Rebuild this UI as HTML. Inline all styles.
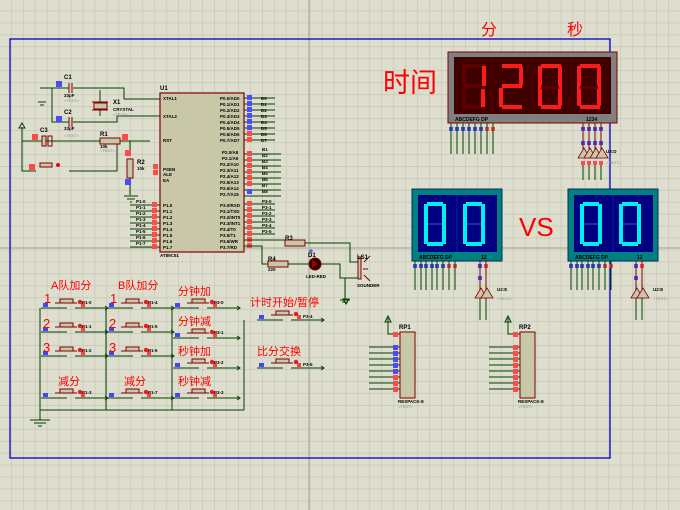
<!DOCTYPE html>
<html><head><meta charset="utf-8"><style>
html,body{margin:0;padding:0;background:#dedece;}
svg{display:block}
.t{font-family:"Liberation Sans",sans-serif;font-size:4.5px;font-weight:bold;fill:#000}
.g{font-family:"Liberation Sans",sans-serif;font-size:4px;fill:#888}
.cn{font-family:"Liberation Sans","Noto Sans CJK SC",sans-serif;fill:#f00}
</style></head><body>
<svg width="680" height="510" viewBox="0 0 680 510" xmlns="http://www.w3.org/2000/svg">
<defs>
<pattern id="grid" width="11.95" height="11.95" patternUnits="userSpaceOnUse" patternTransform="translate(11,10.65)">
<path d="M0 0H11.95M0 0V11.95" stroke="#c2c2b2" stroke-width="1.2" fill="none"/>
</pattern>
<g id="btn">
<rect x="-10" y="-1" width="5" height="4" fill="#4444ff"/>
<rect x="7" y="-5" width="13" height="4" fill="#c8c8a8" stroke="#800000"/>
<line x1="2" y1="-1" x2="24" y2="-1" stroke="#800000"/>
<circle cx="27" cy="-2" r="2.2" fill="#e02020"/><rect x="28" y="-1" width="4" height="4" fill="#ff4040"/>
<path d="M-12 4H14M22 4H55" stroke="#004000" fill="none"/>
<path d="M52 2l3 2-3 2" stroke="#004000" fill="none"/>
</g>
<g id="res"><rect x="0" y="-3" width="20" height="6" fill="#c8c8a8" stroke="#800000"/></g>
<g id="pinR"><rect x="-3" y="-3" width="6" height="6" fill="#ff4a4a"/></g>
<g id="pinB"><rect x="-3" y="-3" width="6" height="6" fill="#4a4aff"/></g>
<g id="buf"><path d="M0 10L6 0 12 10Z" fill="#c8c8a8" stroke="#800000" stroke-width="0.8"/></g>
</defs>
<rect width="680" height="510" fill="#dedece"/>
<rect width="680" height="510" fill="url(#grid)"/>
<line x1="309" y1="0" x2="309" y2="510" stroke="#b6b6a6" stroke-width="1.5"/>
<line x1="0" y1="248" x2="680" y2="248" stroke="#b6b6a6" stroke-width="1.5"/>
<rect x="10" y="39" width="600" height="419" fill="none" stroke="#0000cc" stroke-width="1.3"/>

<g stroke="#004000" fill="none">
<path d="M40 88H52V99M52 88H69M73 88H124V99H160M52 88V122H69M73 122H117V116H160"/>
<path d="M100 90V116"/>
<path d="M22 141H69V141M49 141H150M117 141V171H69M22 127V171H36"/>
<path d="M130 141V152M130 178V195"/>
<path d="M38 102H46M40 105H44"/>
<path d="M124 196H138M127 199H135M130 202H132"/>
</g>
<path d="M19 128L22 123 25 128Z" fill="none" stroke="#004000"/>
<g stroke="#800000" fill="none"><path d="M69 83V93M72 83V93M69 117V127M72 117V127"/><path d="M92 102H108M92 110H108"/></g>
<rect x="94" y="103" width="13" height="6" fill="#c8c8a8" stroke="#800000"/>
<rect x="42" y="136" width="4" height="10" fill="#c8c8a8" stroke="#800000"/><rect x="48" y="136" width="4" height="10" fill="none" stroke="#800000"/>
<rect x="40" y="163" width="12" height="4" fill="#c8c8a8" stroke="#800000"/>
<use href="#res" x="100" y="141"/>
<rect x="127" y="159" width="6" height="19" fill="#c8c8a8" stroke="#800000"/>
<use href="#pinB" x="59" y="84"/><use href="#pinB" x="59" y="119"/><use href="#pinR" x="35" y="137"/><use href="#pinR" x="32" y="167"/><circle cx="58" cy="165" r="2" fill="#e00"/>
<use href="#pinR" x="125" y="137"/><use href="#pinR" x="128" y="153"/><use href="#pinB" x="128" y="182"/>
<text class="t" x="64" y="79" style="font-size:6px">C1</text><text class="t" x="64" y="114" style="font-size:6px">C2</text><text class="t" x="40" y="132" style="font-size:6px">C3</text>
<text class="t" x="113" y="104" style="font-size:6px">X1</text><text class="t" x="113" y="111">CRYSTAL</text>
<text class="t" x="100" y="136" style="font-size:6px">R1</text><text class="t" x="137" y="164" style="font-size:6px">R2</text>
<text class="t" x="64" y="97">33pF</text><text class="t" x="64" y="130">33pF</text><text class="t" x="100" y="148">10k</text><text class="t" x="137" y="170">10k</text>
<text class="g" x="64" y="102">&lt;TEXT&gt;</text><text class="g" x="64" y="137">&lt;TEXT&gt;</text><text class="g" x="113" y="116">&lt;TEXT&gt;</text><text class="g" x="100" y="152">&lt;TEXT&gt;</text>

<rect x="160" y="93" width="84" height="159" fill="#c8c8a8" stroke="#800000" stroke-width="1.2"/>
<text class="t" x="160" y="90" style="font-size:6px">U1</text>
<text class="t" x="160" y="257">AT89C51</text>
<text class="t" x="163" y="100">XTAL1</text><text class="t" x="163" y="118">XTAL2</text><text class="t" x="163" y="142">RST</text>
<text class="t" x="163" y="171">PSEN</text><text class="t" x="163" y="176">ALE</text><text class="t" x="163" y="182">EA</text>
<g class="t">
<text x="163" y="207">P1.0</text><text x="163" y="213">P1.1</text><text x="163" y="219">P1.2</text><text x="163" y="225">P1.3</text><text x="163" y="231">P1.4</text><text x="163" y="237">P1.5</text><text x="163" y="243">P1.6</text><text x="163" y="249">P1.7</text>
<text x="220" y="100">P0.0/AD0</text><text x="220" y="106">P0.1/AD1</text><text x="220" y="112">P0.2/AD2</text><text x="220" y="118">P0.3/AD3</text><text x="220" y="124">P0.4/AD4</text><text x="220" y="130">P0.5/AD5</text><text x="220" y="136">P0.6/AD6</text><text x="220" y="142">P0.7/AD7</text>
<text x="222" y="154">P2.0/A8</text><text x="222" y="160">P2.1/A9</text><text x="220" y="166">P2.2/A10</text><text x="220" y="172">P2.3/A11</text><text x="220" y="178">P2.4/A12</text><text x="220" y="184">P2.5/A13</text><text x="220" y="190">P2.6/A14</text><text x="220" y="196">P2.7/A15</text>
<text x="220" y="207">P3.0/RXD</text><text x="220" y="213">P3.1/TXD</text><text x="220" y="219">P3.2/INT0</text><text x="220" y="225">P3.3/INT1</text><text x="220" y="231">P3.4/T0</text><text x="220" y="237">P3.5/T1</text><text x="220" y="243">P3.6/WR</text><text x="220" y="249">P3.7/RD</text>
</g>
<g stroke="#004000">
<path d="M244 98H275M244 104H275M244 110H275M244 116H275M244 122H275M244 128H275M244 134H275M244 140H275"/>
<path d="M244 154H281M244 160H281M244 166H281M244 172H281M244 178H281M244 184H281M244 190H281M244 196H281"/>
<path d="M244 204H275M244 210H275M244 216H275M244 222H275M244 228H275M244 234H275"/>
<path d="M130 205H160M130 211H160M130 217H160M130 223H160M130 229H160M130 235H160M130 241H160M130 247H160"/>
</g>
<g fill="#4a4aff"><rect x="247" y="95" width="5" height="5"/><rect x="247" y="101" width="5" height="5"/><rect x="247" y="107" width="5" height="5"/><rect x="247" y="113" width="5" height="5"/><rect x="247" y="119" width="5" height="5"/><rect x="247" y="125" width="5" height="5"/><rect x="247" y="189" width="5" height="5"/></g>
<g fill="#ff4a4a"><rect x="247" y="131" width="5" height="5"/><rect x="247" y="137" width="5" height="5"/><rect x="247" y="151" width="5" height="5"/><rect x="247" y="157" width="5" height="5"/><rect x="247" y="163" width="5" height="5"/><rect x="247" y="169" width="5" height="5"/><rect x="247" y="175" width="5" height="5"/><rect x="247" y="181" width="5" height="5"/><rect x="247" y="201" width="5" height="5"/><rect x="247" y="207" width="5" height="5"/><rect x="247" y="213" width="5" height="5"/><rect x="247" y="219" width="5" height="5"/><rect x="247" y="225" width="5" height="5"/><rect x="247" y="231" width="5" height="5"/><rect x="247" y="237" width="5" height="5"/><rect x="247" y="243" width="5" height="5"/>
<rect x="152" y="202" width="5" height="5"/><rect x="152" y="208" width="5" height="5"/><rect x="152" y="214" width="5" height="5"/><rect x="152" y="220" width="5" height="5"/><rect x="152" y="226" width="5" height="5"/><rect x="152" y="232" width="5" height="5"/><rect x="152" y="238" width="5" height="5"/><rect x="152" y="244" width="5" height="5"/><rect x="153" y="164" width="5" height="5"/><rect x="153" y="170" width="5" height="5"/></g>
<g class="t"><text x="261" y="100">D0</text><text x="261" y="106">D1</text><text x="261" y="112">D2</text><text x="261" y="118">D3</text><text x="261" y="124">D4</text><text x="261" y="130">D5</text><text x="261" y="136">D6</text><text x="261" y="142">D7</text>
<text x="262" y="151">B1</text><text x="262" y="157">B2</text><text x="262" y="163">B3</text><text x="262" y="169">B4</text><text x="262" y="175">B5</text><text x="262" y="181">B6</text><text x="262" y="187">B7</text><text x="262" y="193">B8</text>
<text x="262" y="203">P3-0</text><text x="262" y="209">P3-1</text><text x="262" y="215">P3-2</text><text x="262" y="221">P3-3</text><text x="262" y="227">P3-4</text><text x="262" y="233">P3-5</text>
<text x="136" y="203">P1-0</text><text x="136" y="209">P1-1</text><text x="136" y="215">P1-2</text><text x="136" y="221">P1-3</text><text x="136" y="227">P1-4</text><text x="136" y="233">P1-5</text><text x="136" y="239">P1-6</text><text x="136" y="245">P1-7</text></g>

<g stroke="#004000" fill="none">
<path d="M244 240H285M305 243H350V262H358M244 246H262V264H268"/>
<path d="M288 264H309M321 264H340V278H345V300M340 278H358"/>
<path d="M340 300H350M342 302H348"/>
</g>
<use href="#res" x="285" y="243"/><use href="#res" x="268" y="264"/>
<circle cx="315" cy="264" r="6" fill="#300000" stroke="#800000"/>
<path d="M312 260V268L318 264Z" fill="#a00000"/>
<rect x="358" y="257" width="3" height="22" fill="#c8c8a8" stroke="#800000"/>
<path d="M364 262L370 256M364 275L370 281M363 269H368" stroke="#800000" fill="none"/>
<path d="M343 299L346 304 349 299Z" fill="none" stroke="#004000"/>
<path d="M309 251h4M311 249v4" stroke="#2040ff"/>
<text class="t" x="285" y="240" style="font-size:6px">R3</text><text class="t" x="268" y="261" style="font-size:6px">R4</text><text class="t" x="308" y="257" style="font-size:6px">D1</text><text class="t" x="357" y="259" style="font-size:6px">LS1</text>
<text class="t" x="306" y="278">LED-RED</text><text class="t" x="357" y="287">SOUNDER</text><text class="t" x="268" y="271">220</text>

<text class="cn" x="481" y="35" font-size="16">分</text>
<text class="cn" x="567" y="35" font-size="16">秒</text>
<text class="cn" x="383" y="92" font-size="27">时间</text>
<rect x="448" y="52" width="169" height="71" fill="#808080" stroke="#800000"/>
<rect x="454" y="57" width="157" height="57" fill="#400000"/>
<g stroke="#500000"><line x1="493" y1="57" x2="493" y2="114"/><line x1="532" y1="57" x2="532" y2="114"/><line x1="571" y1="57" x2="571" y2="114"/></g>
<g fill="#5a0000">
<path d="M463 64h22v4h-22zM462 68h4v16h-4zM462 89h4v18h-4zM463 105h22v4h-22zM464 84h20v4h-20z"/>
</g>
<g fill="#ff1a1a">
<path d="M482 66h4v20h-4zM481 89h4v18h-4z"/>
<path d="M502 64h20v4h-20zM519 66h4v20h-4zM502 84h20v4h-20zM499 88h4v19h-4zM502 105h20v4h-20z"/>
<path d="M541 64h20v4h-20zM558 66h4v40h-4zM538 66h4v40h-4zM541 105h20v4h-20z"/>
<path d="M580 64h20v4h-20zM597 66h4v40h-4zM577 66h4v40h-4zM580 105h20v4h-20z"/>
</g>
<path d="M541 86h18v3h-18zM580 86h18v3h-18z" fill="#5a0000"/>
<text class="t" x="455" y="121" style="font-size:5px">ABCDEFG DP</text><text class="t" x="586" y="121" style="font-size:5px">1234</text>
<g fill="#4a4aff"><rect x="449" y="127" width="4" height="4"/><rect x="455" y="127" width="4" height="4"/><rect x="461" y="127" width="4" height="4"/><rect x="467" y="127" width="4" height="4"/><rect x="473" y="127" width="4" height="4"/><rect x="479" y="127" width="4" height="4"/><rect x="581" y="127" width="4" height="4"/><rect x="587" y="127" width="4" height="4"/><rect x="593" y="127" width="4" height="4"/><rect x="599" y="127" width="4" height="4"/><rect x="581" y="141" width="4" height="4"/><rect x="587" y="141" width="4" height="4"/><rect x="593" y="141" width="4" height="4"/><rect x="599" y="141" width="4" height="4"/></g>
<g fill="#ff4a4a"><rect x="485" y="127" width="4" height="4"/><rect x="491" y="127" width="4" height="4"/><rect x="581" y="161" width="4" height="4"/><rect x="587" y="161" width="4" height="4"/><rect x="593" y="161" width="4" height="4"/><rect x="599" y="161" width="4" height="4"/></g>
<g stroke="#004000"><path d="M451 123V154M457 123V154M463 123V154M469 123V154M475 123V154M481 123V154M487 123V154M493 123V154"/>
<path d="M583 165V180M589 165V180M595 165V180M601 165V180"/></g>
<g stroke="#800000"><path d="M583 123V150M589 123V150M595 123V150M601 123V150"/></g>
<use href="#buf" x="578" y="148"/><use href="#buf" x="584" y="148"/><use href="#buf" x="590" y="148"/><use href="#buf" x="596" y="148"/>
<text class="t" x="606" y="153">U3:D</text><text class="g" x="606" y="164">&lt;TEXT&gt;</text>

<text class="cn" x="519" y="236" font-size="26">VS</text>
<g id="bd">
<rect x="412" y="189" width="90" height="72" fill="#008080" stroke="#003060"/>
<rect x="418" y="195" width="79" height="57" fill="#000080"/>
<line x1="457" y1="195" x2="457" y2="252" stroke="#102090"/>
<g fill="#00f0f0">
<path d="M427 202h16v4h-16zM424 204h4v40h-4zM442 204h4v40h-4zM427 242h16v4h-16z"/>
<path d="M466 202h16v4h-16zM463 204h4v40h-4zM481 204h4v40h-4zM466 242h16v4h-16z"/>
</g>
<path d="M428 223h14v2h-14zM467 223h14v2h-14z" fill="#1830a0"/>
<text class="t" x="419" y="259" style="font-size:5px">ABCDEFG DP</text><text class="t" x="481" y="259" style="font-size:5px">12</text>
<g fill="#4a4aff"><rect x="413" y="264" width="4" height="4"/><rect x="419" y="264" width="4" height="4"/><rect x="424" y="264" width="4" height="4"/><rect x="430" y="264" width="4" height="4"/><rect x="435" y="264" width="4" height="4"/><rect x="441" y="264" width="4" height="4"/><rect x="478" y="264" width="4" height="4"/><rect x="478" y="276" width="4" height="4"/></g>
<g fill="#ff4a4a"><rect x="447" y="264" width="4" height="4"/><rect x="453" y="264" width="4" height="4"/><rect x="484" y="264" width="4" height="4"/></g>
<g stroke="#004000"><path d="M415 261V290M421 261V290M426 261V290M432 261V290M437 261V290M443 261V290M449 261V290M455 261V290M480 296V320M486 296V320"/></g>
<g stroke="#800000"><path d="M480 261V290M486 261V290"/></g>
<use href="#buf" x="475" y="288"/><use href="#buf" x="481" y="288"/>
<text class="t" x="497" y="291">U2:E</text><text class="g" x="497" y="300">&lt;TEXT&gt;</text>
</g>
<use href="#bd" x="156" y="0"/>

<g>
<rect x="400" y="332" width="15" height="66" fill="#c8c8a8" stroke="#800000"/>
<text class="t" x="399" y="329" style="font-size:6px">RP1</text>
<text class="t" x="398" y="403">RESPACK-8</text><text class="g" x="398" y="408">&lt;TEXT&gt;</text>
<path d="M388 318V334H400" stroke="#004000" fill="none"/><path d="M385 322L388 316 391 322Z" fill="none" stroke="#004000"/>
<g stroke="#004000"><path d="M369 347H400M369 353H400M369 359H400M369 365H400M369 371H400M369 377H400M369 383H400M369 389H400"/></g>
<g fill="#4a4aff"><rect x="393" y="345" width="5" height="5"/><rect x="393" y="351" width="5" height="5"/><rect x="393" y="357" width="5" height="5"/><rect x="393" y="363" width="5" height="5"/><rect x="393" y="369" width="5" height="5"/></g>
<g fill="#ff4a4a"><rect x="393" y="332" width="5" height="5"/><rect x="393" y="375" width="5" height="5"/><rect x="393" y="381" width="5" height="5"/><rect x="393" y="387" width="5" height="5"/></g>
</g>
<g transform="translate(120,0)">
<rect x="400" y="332" width="15" height="66" fill="#c8c8a8" stroke="#800000"/>
<text class="t" x="399" y="329" style="font-size:6px">RP2</text>
<text class="t" x="398" y="403">RESPACK-8</text><text class="g" x="398" y="408">&lt;TEXT&gt;</text>
<path d="M388 318V334H400" stroke="#004000" fill="none"/><path d="M385 322L388 316 391 322Z" fill="none" stroke="#004000"/>
<g stroke="#004000"><path d="M369 347H400M369 353H400M369 359H400M369 365H400M369 371H400M369 377H400M369 383H400M369 389H400"/></g>
<g fill="#ff4a4a"><rect x="393" y="332" width="5" height="5"/><rect x="393" y="345" width="5" height="5"/><rect x="393" y="351" width="5" height="5"/><rect x="393" y="357" width="5" height="5"/><rect x="393" y="363" width="5" height="5"/><rect x="393" y="369" width="5" height="5"/><rect x="393" y="375" width="5" height="5"/><rect x="393" y="381" width="5" height="5"/><rect x="393" y="387" width="5" height="5"/></g>
</g>

<g stroke="#004000" fill="none">
<path d="M40 308V420M106 308V410M172 308V410M244 320V410M40 410H244"/>
<path d="M30 420H50M34 423H46M38 426H42"/>
</g>
<use href="#btn" x="53" y="304"/><use href="#btn" x="53" y="328"/><use href="#btn" x="53" y="352"/><use href="#btn" x="53" y="394"/>
<use href="#btn" x="119" y="304"/><use href="#btn" x="119" y="328"/><use href="#btn" x="119" y="352"/><use href="#btn" x="119" y="394"/>
<use href="#btn" x="185" y="304"/><use href="#btn" x="185" y="334"/><use href="#btn" x="185" y="364"/><use href="#btn" x="185" y="394"/>
<use href="#btn" x="269" y="316"/><use href="#btn" x="269" y="364"/>
<g class="t"><text x="82" y="304">P1-0</text><text x="82" y="328">P1-1</text><text x="82" y="352">P1-2</text><text x="82" y="394">P1-3</text>
<text x="148" y="304">P1-4</text><text x="148" y="328">P1-5</text><text x="148" y="352">P1-6</text><text x="148" y="394">P1-7</text>
<text x="214" y="304">P3-0</text><text x="214" y="334">P3-1</text><text x="214" y="364">P3-2</text><text x="214" y="394">P3-3</text>
<text x="303" y="318">P3-4</text><text x="303" y="366">P3-5</text></g>
<g class="cn" font-size="11">
<text x="51" y="289">A队加分</text><text x="118" y="289">B队加分</text>
<text x="178" y="295">分钟加</text><text x="178" y="325">分钟减</text><text x="178" y="355">秒钟加</text><text x="178" y="385">秒钟减</text>
<text x="58" y="385">减分</text><text x="124" y="385">减分</text>
<text x="250" y="306">计时开始/暂停</text><text x="257" y="355">比分交换</text>
</g>
<g class="cn" font-size="13"><text x="44" y="303">1</text><text x="43" y="328">2</text><text x="43" y="352">3</text><text x="110" y="303">1</text><text x="109" y="328">2</text><text x="109" y="352">3</text></g>
</svg>
</body></html>
